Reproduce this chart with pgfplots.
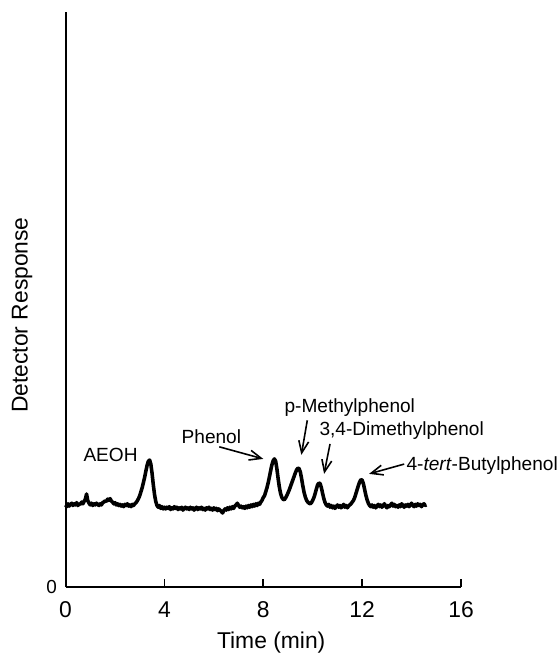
\documentclass[border=0pt]{standalone}
\usepackage{fontspec}
\setmainfont{Liberation Sans}
\usepackage{pgfplots}
\pgfplotsset{compat=1.18}
\usetikzlibrary{arrows.meta}

\begin{document}
\fontsize{9.6}{11}\selectfont
\begin{tikzpicture}
\begin{axis}[
    scale only axis,
    width=199pt, height=289.5pt,
    xmin=0, xmax=16, ymin=0, ymax=100,
    axis lines*=left,
    axis line style={line width=1pt},
    xtick={0,4,8,12,16},
    ytick={0},
    tick align=inside,
    major tick length=4pt,
    tick style={line width=0.9pt, black},
    ytick style={draw=none},
    xticklabel style={yshift=-4pt, font=\fontsize{11.5}{13}\selectfont},
    yticklabel style={xshift=-1pt, font=\fontsize{9.5}{11}\selectfont},
    /pgf/number format/assume math mode=true,
    xlabel={Time (min)},
    ylabel={Detector Response},
    label style={font=\fontsize{11.5}{13}\selectfont},
    xlabel style={at={(rel axis cs:0.52,-0.097)}, anchor=center},
    ylabel style={at={(rel axis cs:-0.11,0.473)}, anchor=center},
    clip=false,
]
\addplot[black, line width=1.8pt, line join=round] coordinates {
(0.00,14.3) (0.05,14.0) (0.10,14.5) (0.15,14.1) (0.20,14.4) (0.25,14.6) (0.30,14.2) (0.35,14.5) (0.40,14.3) (0.45,14.7)
(0.50,14.2) (0.55,14.5) (0.60,14.4) (0.65,14.8) (0.70,14.5) (0.75,14.9) (0.80,15.3) (0.85,16.2) (0.90,15.0) (0.95,14.6)
(1.00,14.3) (1.05,14.6) (1.10,14.2) (1.15,14.5) (1.20,14.3) (1.25,14.6) (1.30,14.4) (1.35,14.2) (1.40,14.5) (1.45,14.3)
(1.50,14.7) (1.55,14.8) (1.60,15.0) (1.65,14.9) (1.70,15.3) (1.75,15.1) (1.80,15.4) (1.85,15.0) (1.90,14.8) (1.95,14.5)
(2.00,14.7) (2.05,14.3) (2.10,14.5) (2.15,14.2) (2.20,14.4) (2.25,14.1) (2.30,14.3) (2.35,14.0) (2.40,14.4) (2.45,14.2)
(2.50,14.5) (2.55,14.1) (2.60,14.3) (2.65,14.0) (2.70,14.4) (2.75,14.2) (2.80,14.5) (2.85,14.7) (2.90,15.0) (2.95,15.4)
(3.00,15.9) (3.05,16.6) (3.10,17.3) (3.15,18.2) (3.20,19.1) (3.25,20.2) (3.30,21.2) (3.35,21.9) (3.40,22.1) (3.45,21.4)
(3.50,19.8) (3.55,17.8) (3.60,16.1) (3.65,14.9) (3.70,14.2) (3.75,13.9) (3.80,14.2) (3.85,13.7) (3.90,14.0) (3.95,13.6)
(4.00,13.9) (4.05,13.6) (4.10,13.9) (4.15,13.7) (4.20,14.0) (4.25,13.5) (4.30,13.8) (4.35,13.6) (4.40,14.0) (4.45,13.7)
(4.50,13.9) (4.55,13.5) (4.60,13.8) (4.65,13.6) (4.70,13.9) (4.75,13.4) (4.80,13.7) (4.85,13.9) (4.90,13.6) (4.95,13.8)
(5.00,13.5) (5.05,13.9) (5.10,13.6) (5.15,13.8) (5.20,13.4) (5.25,13.7) (5.30,13.9) (5.35,13.5) (5.40,13.8) (5.45,13.6)
(5.50,13.9) (5.55,13.5) (5.60,13.7) (5.65,13.4) (5.70,13.8) (5.75,13.6) (5.80,13.9) (5.85,13.5) (5.90,13.7) (5.95,13.4)
(6.00,13.8) (6.05,13.5) (6.10,13.7) (6.15,13.3) (6.20,13.6) (6.25,13.4) (6.30,13.2) (6.35,12.9) (6.40,13.3) (6.45,13.6)
(6.50,13.4) (6.55,13.8) (6.60,13.5) (6.65,13.9) (6.70,13.6) (6.75,14.0) (6.80,13.7) (6.85,14.1) (6.90,14.3) (6.95,14.6)
(7.00,14.2) (7.05,13.9) (7.10,14.1) (7.15,13.8) (7.20,14.0) (7.25,13.7) (7.30,14.1) (7.35,13.8) (7.40,14.2) (7.45,13.9)
(7.50,14.3) (7.55,14.0) (7.60,14.4) (7.65,14.1) (7.70,14.5) (7.75,14.2) (7.80,14.6) (7.85,14.4) (7.90,14.8) (7.95,15.1)
(8.00,15.6) (8.05,15.9) (8.10,16.6) (8.15,17.3) (8.20,18.2) (8.25,19.2) (8.30,20.3) (8.35,21.3) (8.40,22.0) (8.45,22.3)
(8.50,21.9) (8.55,20.6) (8.60,18.9) (8.65,17.4) (8.70,16.3) (8.75,15.6) (8.80,15.3) (8.85,15.2) (8.90,15.5) (8.95,15.9)
(9.00,16.4) (9.05,16.9) (9.10,17.5) (9.15,18.1) (9.20,18.7) (9.25,19.3) (9.30,19.9) (9.35,20.4) (9.40,20.7) (9.45,20.6)
(9.50,20.0) (9.55,18.9) (9.60,17.6) (9.65,16.5) (9.70,15.7) (9.75,15.1) (9.80,14.8) (9.85,14.6) (9.90,14.5) (9.95,14.7)
(10.00,15.1) (10.05,15.6) (10.10,16.3) (10.15,17.1) (10.20,17.8) (10.25,18.1) (10.30,18.0) (10.35,17.3) (10.40,16.3) (10.45,15.4)
(10.50,14.7) (10.55,14.3) (10.60,14.1) (10.65,14.4) (10.70,13.9) (10.75,14.2) (10.80,13.8) (10.85,14.1) (10.90,13.7) (10.95,14.0)
(11.00,14.3) (11.05,13.9) (11.10,14.2) (11.15,13.8) (11.20,14.1) (11.25,14.4) (11.30,13.9) (11.35,14.2) (11.40,13.8) (11.45,14.1)
(11.50,14.3) (11.55,14.5) (11.60,14.8) (11.65,15.1) (11.70,15.6) (11.75,16.3) (11.80,17.0) (11.85,17.7) (11.90,18.3) (11.95,18.7)
(12.00,18.6) (12.05,18.0) (12.10,17.0) (12.15,16.0) (12.20,15.2) (12.25,14.6) (12.30,14.2) (12.35,14.0) (12.40,14.3) (12.45,13.9)
(12.50,14.2) (12.55,13.8) (12.60,14.1) (12.65,14.4) (12.70,14.0) (12.75,14.3) (12.80,13.9) (12.85,14.2) (12.90,14.5) (12.95,14.1)
(13.00,13.8) (13.05,14.2) (13.10,14.0) (13.15,14.3) (13.20,14.6) (13.25,14.1) (13.30,14.4) (13.35,14.0) (13.40,14.2) (13.45,13.9)
(13.50,14.3) (13.55,14.0) (13.60,14.5) (13.65,14.2) (13.70,13.9) (13.75,14.3) (13.80,14.1) (13.85,14.4) (13.90,14.0) (13.95,14.3)
(14.00,14.6) (14.05,14.2) (14.10,14.0) (14.15,14.4) (14.20,14.1) (14.25,14.5) (14.30,14.2) (14.35,14.4) (14.40,14.0) (14.45,14.3)
(14.50,14.5) (14.55,14.2) (14.60,14.3)
};
\node at (axis cs:1.82,23.0) {AEOH};
\node at (axis cs:5.9,26.1) {Phenol};
\node at (axis cs:11.5,31.3) {p-Methylphenol};
\node at (axis cs:13.6,27.3) {3,4-Dimethylphenol};
\node[anchor=west, inner sep=0pt] at (axis cs:13.78,21.2) {4-\textit{tert}-Butylphenol};
\begin{scope}[line width=0.8pt, -{Straight Barb[length=6pt,width=5pt]}]
\draw (axis cs:6.22,24.4) -- (axis cs:8.0,22.3);
\draw (axis cs:9.78,29.0) -- (axis cs:9.54,23.0);
\draw (axis cs:10.7,24.9) -- (axis cs:10.46,19.7);
\draw (axis cs:13.7,21.4) -- (axis cs:12.28,19.7);
\end{scope}
\path (rel axis cs:-0.1658,-0.1192) rectangle (rel axis cs:1.2286,1.0207);
\end{axis}
\end{tikzpicture}
\end{document}
